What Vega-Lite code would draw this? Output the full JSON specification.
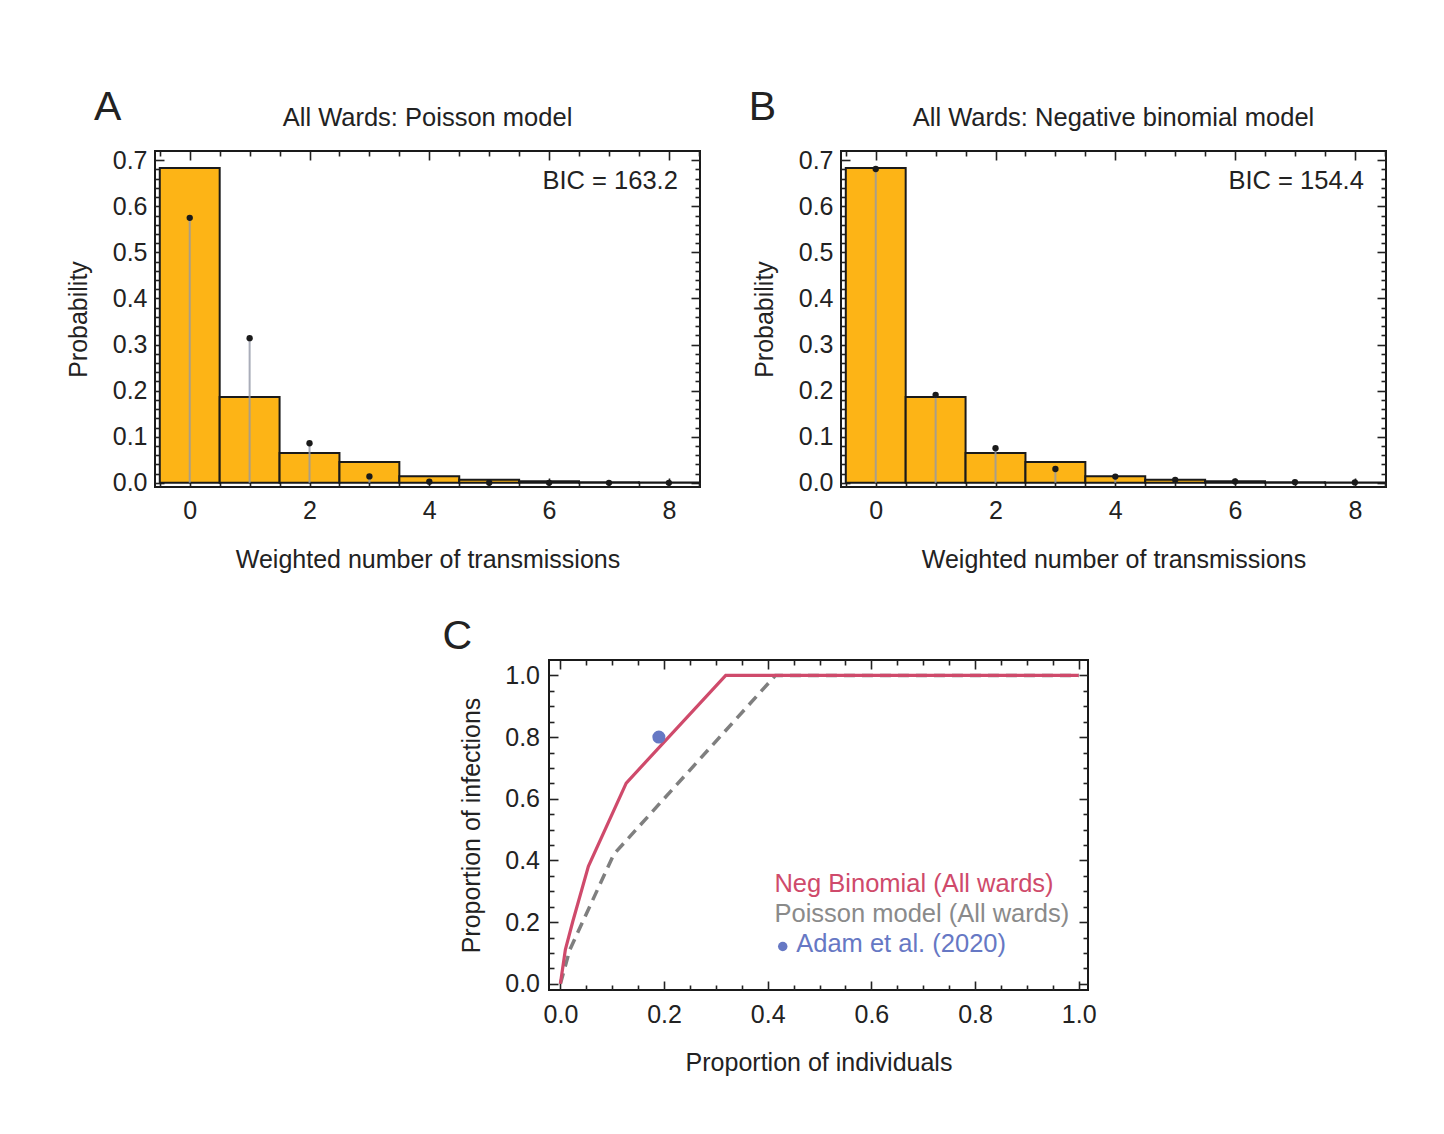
{
  "$schema": "https://vega.github.io/schema/vega-lite/v6.json",
  "background": "white",
  "padding": {"left": 65, "top": 86, "right": 10, "bottom": 10},
  "config": {
    "font": "Liberation Sans",
    "view": {"stroke": "#1a1a1a", "strokeWidth": 2},
    "axis": {"domain": false, "grid": false, "labelFont": "Liberation Sans", "labelFontSize": 25, "labelColor": "#222", "titleFont": "Liberation Sans", "titleFontSize": 25, "titleFontWeight": "normal", "titleColor": "#222", "tickColor": "#222", "tickWidth": 1.6, "labelOverlap": false, "labelFlush": false}
  },
  "datasets": {
    "hist": [
      {"k": 0, "lo": -0.5, "hi": 0.5, "obs": 0.683, "pois": 0.575, "nb": 0.681},
      {"k": 1, "lo": 0.5, "hi": 1.5, "obs": 0.186, "pois": 0.314, "nb": 0.191},
      {"k": 2, "lo": 1.5, "hi": 2.5, "obs": 0.065, "pois": 0.086, "nb": 0.075},
      {"k": 3, "lo": 2.5, "hi": 3.5, "obs": 0.045, "pois": 0.014, "nb": 0.030},
      {"k": 4, "lo": 3.5, "hi": 4.5, "obs": 0.0145, "pois": 0.0025, "nb": 0.0137},
      {"k": 5, "lo": 4.5, "hi": 5.5, "obs": 0.007, "pois": 0.0003, "nb": 0.0065},
      {"k": 6, "lo": 5.5, "hi": 6.5, "obs": 0.0037, "pois": 0.0, "nb": 0.003},
      {"k": 7, "lo": 6.5, "hi": 7.5, "obs": 0.0015, "pois": 0.0, "nb": 0.0015},
      {"k": 8, "lo": 7.5, "hi": 8.5, "obs": 0.0008, "pois": 0.0, "nb": 0.001}
    ],
    "nbcurve": [
      {"px": 0.0, "py": 0.0},
      {"px": 0.0096, "py": 0.111},
      {"px": 0.024, "py": 0.203},
      {"px": 0.054, "py": 0.381},
      {"px": 0.127, "py": 0.651},
      {"px": 0.319, "py": 1.0},
      {"px": 1.0, "py": 1.0}
    ],
    "poiscurve": [
      {"px": 0.0, "py": 0.0},
      {"px": 0.018, "py": 0.11},
      {"px": 0.103, "py": 0.42},
      {"px": 0.415, "py": 1.0},
      {"px": 1.0, "py": 1.0}
    ],
    "adam": [{"px": 0.19, "py": 0.8}],
    "blank": [{}]
  },
  "spacing": 41,
  "vconcat": [
    {
      "spacing": 45,
      "hconcat": [
        {
          "width": 545, "height": 336,
          "resolve": {"axis": {"x": "independent", "y": "independent"}},
          "layer": [
            {
              "data": {"name": "hist"},
              "mark": {"type": "rect", "fill": "#FDB416", "stroke": "#1a1a1a", "strokeWidth": 2},
              "encoding": {
                "x": {"field": "lo", "type": "quantitative", "scale": {"domain": [-0.58, 8.52], "nice": false, "zero": false},
                  "axis": {"orient": "bottom", "title": "Weighted number of transmissions", "values": [-0.5,0,0.5,1,1.5,2,2.5,3,3.5,4,4.5,5,5.5,6,6.5,7,7.5,8,8.5], "format": ".0f", "labelExpr": "abs(datum.value/2 - round(datum.value/2)) < 0.001 ? datum.label : ''", "tickSize": {"condition": {"test": "abs(datum.value/2 - round(datum.value/2)) < 0.001", "value": -9}, "value": -5}, "labelPadding": 20.5, "titlePadding": 19.5}},
                "x2": {"field": "hi"},
                "y": {"field": "obs", "type": "quantitative", "scale": {"domain": [-0.009, 0.72], "nice": false, "zero": false},
                  "axis": {"orient": "left", "title": "Probability", "values": [0,0.02,0.04,0.06,0.08,0.1,0.12,0.14,0.16,0.18,0.2,0.22,0.24,0.26,0.28,0.3,0.32,0.34,0.36,0.38,0.4,0.42,0.44,0.46,0.48,0.5,0.52,0.54,0.56,0.58,0.6,0.62,0.64,0.66,0.68,0.7], "format": ".1f", "labelExpr": "abs(datum.value*10 - round(datum.value*10)) < 0.001 ? datum.label : ''", "tickSize": {"condition": {"test": "abs(datum.value*10 - round(datum.value*10)) < 0.001", "value": -9}, "value": -5}, "labelPadding": 17, "titlePadding": 20.5}},
                "y2": {"datum": 0}
              }
            },
            {
              "data": {"name": "hist"},
              "mark": {"type": "rule", "color": "#9499a8", "strokeWidth": 2, "opacity": 0.8},
              "encoding": {
                "x": {"field": "k", "type": "quantitative", "scale": {"domain": [-0.58, 8.52], "nice": false, "zero": false},
                  "axis": {"orient": "top", "title": null, "labels": false, "values": [-0.5,0,0.5,1,1.5,2,2.5,3,3.5,4,4.5,5,5.5,6,6.5,7,7.5,8,8.5], "tickSize": {"condition": {"test": "abs(datum.value/2 - round(datum.value/2)) < 0.001", "value": -9}, "value": -5}}},
                "y": {"field": "pois", "type": "quantitative", "scale": {"domain": [-0.009, 0.72], "nice": false, "zero": false},
                  "axis": {"orient": "right", "title": null, "labels": false, "values": [0,0.02,0.04,0.06,0.08,0.1,0.12,0.14,0.16,0.18,0.2,0.22,0.24,0.26,0.28,0.3,0.32,0.34,0.36,0.38,0.4,0.42,0.44,0.46,0.48,0.5,0.52,0.54,0.56,0.58,0.6,0.62,0.64,0.66,0.68,0.7], "tickSize": {"condition": {"test": "abs(datum.value*10 - round(datum.value*10)) < 0.001", "value": -9}, "value": -5}}},
                "y2": {"datum": 0}
              }
            },
            {
              "data": {"name": "hist"},
              "mark": {"type": "point", "filled": true, "color": "#1a1a1a", "size": 40, "opacity": 1},
              "encoding": {
                "x": {"field": "k", "type": "quantitative", "axis": null},
                "y": {"field": "pois", "type": "quantitative", "axis": null}
              }
            },
            {
              "data": {"name": "blank"},
              "mark": {"type": "text", "text": "BIC = 163.2", "fontSize": 25.5, "align": "right", "baseline": "middle", "color": "#222"},
              "encoding": {
                "x": {"datum": 8.15, "type": "quantitative", "axis": null},
                "y": {"datum": 0.655, "type": "quantitative", "axis": null}
              }
            },
            {
              "data": {"name": "blank"},
              "mark": {"type": "text", "text": "All Wards: Poisson model", "fontSize": 25.5, "align": "center", "baseline": "middle", "color": "#222"},
              "encoding": {
                "x": {"datum": 3.97, "type": "quantitative", "axis": null},
                "y": {"datum": 0.792, "type": "quantitative", "axis": null}
              }
            },
            {
              "data": {"name": "blank"},
              "mark": {"type": "text", "text": "A", "fontSize": 41, "align": "center", "baseline": "alphabetic", "color": "#222"},
              "encoding": {
                "x": {"datum": -1.37, "type": "quantitative", "axis": null},
                "y": {"datum": 0.787, "type": "quantitative", "axis": null}
              }
            }
          ]
        },
        {
          "width": 545, "height": 336,
          "resolve": {"axis": {"x": "independent", "y": "independent"}},
          "layer": [
            {
              "data": {"name": "hist"},
              "mark": {"type": "rect", "fill": "#FDB416", "stroke": "#1a1a1a", "strokeWidth": 2},
              "encoding": {
                "x": {"field": "lo", "type": "quantitative", "scale": {"domain": [-0.58, 8.52], "nice": false, "zero": false},
                  "axis": {"orient": "bottom", "title": "Weighted number of transmissions", "values": [-0.5,0,0.5,1,1.5,2,2.5,3,3.5,4,4.5,5,5.5,6,6.5,7,7.5,8,8.5], "format": ".0f", "labelExpr": "abs(datum.value/2 - round(datum.value/2)) < 0.001 ? datum.label : ''", "tickSize": {"condition": {"test": "abs(datum.value/2 - round(datum.value/2)) < 0.001", "value": -9}, "value": -5}, "labelPadding": 20.5, "titlePadding": 19.5}},
                "x2": {"field": "hi"},
                "y": {"field": "obs", "type": "quantitative", "scale": {"domain": [-0.009, 0.72], "nice": false, "zero": false},
                  "axis": {"orient": "left", "title": "Probability", "values": [0,0.02,0.04,0.06,0.08,0.1,0.12,0.14,0.16,0.18,0.2,0.22,0.24,0.26,0.28,0.3,0.32,0.34,0.36,0.38,0.4,0.42,0.44,0.46,0.48,0.5,0.52,0.54,0.56,0.58,0.6,0.62,0.64,0.66,0.68,0.7], "format": ".1f", "labelExpr": "abs(datum.value*10 - round(datum.value*10)) < 0.001 ? datum.label : ''", "tickSize": {"condition": {"test": "abs(datum.value*10 - round(datum.value*10)) < 0.001", "value": -9}, "value": -5}, "labelPadding": 17, "titlePadding": 20.5}},
                "y2": {"datum": 0}
              }
            },
            {
              "data": {"name": "hist"},
              "mark": {"type": "rule", "color": "#9499a8", "strokeWidth": 2, "opacity": 0.8},
              "encoding": {
                "x": {"field": "k", "type": "quantitative", "scale": {"domain": [-0.58, 8.52], "nice": false, "zero": false},
                  "axis": {"orient": "top", "title": null, "labels": false, "values": [-0.5,0,0.5,1,1.5,2,2.5,3,3.5,4,4.5,5,5.5,6,6.5,7,7.5,8,8.5], "tickSize": {"condition": {"test": "abs(datum.value/2 - round(datum.value/2)) < 0.001", "value": -9}, "value": -5}}},
                "y": {"field": "nb", "type": "quantitative", "scale": {"domain": [-0.009, 0.72], "nice": false, "zero": false},
                  "axis": {"orient": "right", "title": null, "labels": false, "values": [0,0.02,0.04,0.06,0.08,0.1,0.12,0.14,0.16,0.18,0.2,0.22,0.24,0.26,0.28,0.3,0.32,0.34,0.36,0.38,0.4,0.42,0.44,0.46,0.48,0.5,0.52,0.54,0.56,0.58,0.6,0.62,0.64,0.66,0.68,0.7], "tickSize": {"condition": {"test": "abs(datum.value*10 - round(datum.value*10)) < 0.001", "value": -9}, "value": -5}}},
                "y2": {"datum": 0}
              }
            },
            {
              "data": {"name": "hist"},
              "mark": {"type": "point", "filled": true, "color": "#1a1a1a", "size": 40, "opacity": 1},
              "encoding": {
                "x": {"field": "k", "type": "quantitative", "axis": null},
                "y": {"field": "nb", "type": "quantitative", "axis": null}
              }
            },
            {
              "data": {"name": "blank"},
              "mark": {"type": "text", "text": "BIC = 154.4", "fontSize": 25.5, "align": "right", "baseline": "middle", "color": "#222"},
              "encoding": {
                "x": {"datum": 8.15, "type": "quantitative", "axis": null},
                "y": {"datum": 0.655, "type": "quantitative", "axis": null}
              }
            },
            {
              "data": {"name": "blank"},
              "mark": {"type": "text", "text": "All Wards: Negative binomial model", "fontSize": 25.5, "align": "center", "baseline": "middle", "color": "#222"},
              "encoding": {
                "x": {"datum": 3.97, "type": "quantitative", "axis": null},
                "y": {"datum": 0.792, "type": "quantitative", "axis": null}
              }
            },
            {
              "data": {"name": "blank"},
              "mark": {"type": "text", "text": "B", "fontSize": 41, "align": "center", "baseline": "alphabetic", "color": "#222"},
              "encoding": {
                "x": {"datum": -1.89, "type": "quantitative", "axis": null},
                "y": {"datum": 0.787, "type": "quantitative", "axis": null}
              }
            }
          ]
        }
      ]
    },
    {
      "spacing": 0,
      "hconcat": [
        {
          "width": 286, "height": 20,
          "view": {"stroke": null},
          "data": {"name": "blank"},
          "mark": {"type": "text", "text": ""},
          "encoding": {}
        },
        {
          "width": 539, "height": 330,
          "resolve": {"axis": {"x": "independent", "y": "independent"}},
          "layer": [
            {
              "data": {"name": "poiscurve"},
              "mark": {"type": "line", "color": "#7f7f7f", "strokeWidth": 3.5, "strokeDash": [11, 7]},
              "encoding": {
                "x": {"field": "px", "type": "quantitative", "scale": {"domain": [-0.022, 1.018], "nice": false, "zero": false},
                  "axis": {"orient": "top", "title": null, "labels": false, "values": [0,0.05,0.1,0.15,0.2,0.25,0.3,0.35,0.4,0.45,0.5,0.55,0.6,0.65,0.7,0.75,0.8,0.85,0.9,0.95,1.0], "tickSize": {"condition": {"test": "abs(datum.value*5 - round(datum.value*5)) < 0.001", "value": -9}, "value": -5}}},
                "y": {"field": "py", "type": "quantitative", "scale": {"domain": [-0.02, 1.05], "nice": false, "zero": false},
                  "axis": {"orient": "right", "title": null, "labels": false, "values": [0,0.05,0.1,0.15,0.2,0.25,0.3,0.35,0.4,0.45,0.5,0.55,0.6,0.65,0.7,0.75,0.8,0.85,0.9,0.95,1.0], "tickSize": {"condition": {"test": "abs(datum.value*5 - round(datum.value*5)) < 0.001", "value": -9}, "value": -5}}}
              }
            },
            {
              "data": {"name": "nbcurve"},
              "mark": {"type": "line", "color": "#CF4A6B", "strokeWidth": 3.2},
              "encoding": {
                "x": {"field": "px", "type": "quantitative", "scale": {"domain": [-0.022, 1.018], "nice": false, "zero": false},
                  "axis": {"orient": "bottom", "title": "Proportion of individuals", "values": [0,0.05,0.1,0.15,0.2,0.25,0.3,0.35,0.4,0.45,0.5,0.55,0.6,0.65,0.7,0.75,0.8,0.85,0.9,0.95,1.0], "format": ".1f", "labelExpr": "abs(datum.value*5 - round(datum.value*5)) < 0.001 ? datum.label : ''", "tickSize": {"condition": {"test": "abs(datum.value*5 - round(datum.value*5)) < 0.001", "value": -9}, "value": -5}, "labelPadding": 21, "titlePadding": 19.5}},
                "y": {"field": "py", "type": "quantitative", "scale": {"domain": [-0.02, 1.05], "nice": false, "zero": false},
                  "axis": {"orient": "left", "title": "Proportion of infections", "values": [0,0.05,0.1,0.15,0.2,0.25,0.3,0.35,0.4,0.45,0.5,0.55,0.6,0.65,0.7,0.75,0.8,0.85,0.9,0.95,1.0], "format": ".1f", "labelExpr": "abs(datum.value*5 - round(datum.value*5)) < 0.001 ? datum.label : ''", "tickSize": {"condition": {"test": "abs(datum.value*5 - round(datum.value*5)) < 0.001", "value": -9}, "value": -5}, "labelPadding": 18.5, "titlePadding": 20.5}}
              }
            },
            {
              "data": {"name": "adam"},
              "mark": {"type": "point", "filled": true, "color": "#6678C4", "size": 170, "opacity": 1},
              "encoding": {
                "x": {"field": "px", "type": "quantitative", "axis": null},
                "y": {"field": "py", "type": "quantitative", "axis": null}
              }
            },
            {
              "data": {"name": "blank"},
              "mark": {"type": "text", "text": "Neg Binomial (All wards)", "fontSize": 25.5, "align": "left", "baseline": "middle", "color": "#CF4A6B"},
              "encoding": {
                "x": {"datum": 0.413, "type": "quantitative", "axis": null},
                "y": {"datum": 0.325, "type": "quantitative", "axis": null}
              }
            },
            {
              "data": {"name": "blank"},
              "mark": {"type": "text", "text": "Poisson model (All wards)", "fontSize": 25.5, "align": "left", "baseline": "middle", "color": "#8a8a8a"},
              "encoding": {
                "x": {"datum": 0.413, "type": "quantitative", "axis": null},
                "y": {"datum": 0.225, "type": "quantitative", "axis": null}
              }
            },
            {
              "data": {"name": "blank"},
              "mark": {"type": "point", "filled": true, "color": "#6678C4", "size": 90, "opacity": 1},
              "encoding": {
                "x": {"datum": 0.429, "type": "quantitative", "axis": null},
                "y": {"datum": 0.121, "type": "quantitative", "axis": null}
              }
            },
            {
              "data": {"name": "blank"},
              "mark": {"type": "text", "text": "Adam et al. (2020)", "fontSize": 25.5, "align": "left", "baseline": "middle", "color": "#6678C4"},
              "encoding": {
                "x": {"datum": 0.455, "type": "quantitative", "axis": null},
                "y": {"datum": 0.128, "type": "quantitative", "axis": null}
              }
            },
            {
              "data": {"name": "blank"},
              "mark": {"type": "text", "text": "C", "fontSize": 41, "align": "center", "baseline": "alphabetic", "color": "#222"},
              "encoding": {
                "x": {"datum": -0.199, "type": "quantitative", "axis": null},
                "y": {"datum": 1.087, "type": "quantitative", "axis": null}
              }
            }
          ]
        }
      ]
    }
  ]
}
